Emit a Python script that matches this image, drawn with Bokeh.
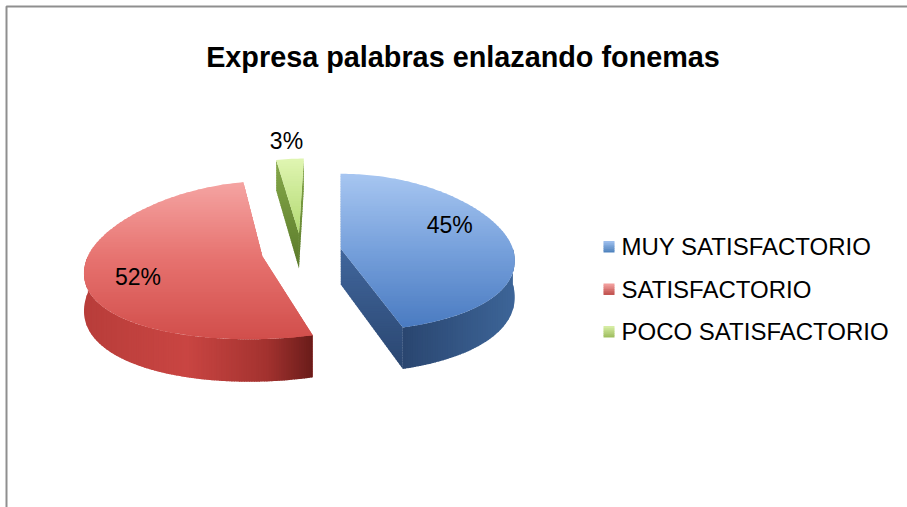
import numpy as np
from bokeh.plotting import figure
from bokeh.models import Range1d
from bokeh.embed import file_html
from bokeh.resources import INLINE
from bokeh.core.properties import value

# ---------------- data ----------------
chart_title = "Expresa palabras enlazando fonemas"
categories = ["MUY SATISFACTORIO", "SATISFACTORIO", "POCO SATISFACTORIO"]
percentages = [45, 52, 3]

# ---------------- styles / layout ----------------
FONT = "Liberation Sans"
W, H = 907, 507
CX, CY = 301.0, 251.0        # pie centre (page pixels)
RX = 173.0                   # horizontal radius
RY_BACK, RY_FRONT = 75.0, 83.0
VX = 338.0                   # perspective centre (x)
PERSP = 0.145                # perspective strength
DEPTH = 36.0                 # pie thickness
explode = [0.23, 0.23, 0.24]
label_k = [0.65, 0.65, 1.2]
label_nudge = [(0, -16), (-10, 7), (-2, -3)]

top_grad = [
    [(0, "#a7c6f1"), (0.5, "#76a0db"), (1, "#4a7bc1")],
    [(0, "#f5a4a2"), (0.5, "#e6716e"), (1, "#d14e4b")],
    [(0, "#e0f5b2"), (1, "#b2da72")],
]
side_grad = [  # horizontal, left -> right
    [(0, "#2a4670"), (1, "#3d6598")],
    [(0, "#b83d3a"), (0.45, "#c94542"), (0.8, "#a3322f"), (1, "#6a1c1a")],
    [(0, "#6f8f35"), (1, "#6f8f35")],
]
cut_grad = [  # vertical, top -> bottom
    [(0, "#41669c"), (1, "#2a4670")],
    [(0, "#e98280"), (1, "#c44a47")],
    [(0, "#86a84a"), (1, "#5a7a2a")],
]
legend_grad = [
    [(0, "#a3c3f0"), (1, "#4a7ebb")],
    [(0, "#f5a3a1"), (1, "#c0504d")],
    [(0, "#dbf1ab"), (1, "#9bbb59")],
]


def hex2rgb(h):
    h = h.lstrip("#")
    return np.array([int(h[i:i + 2], 16) for i in (0, 2, 4)], dtype=float)


def grad_color(stops, t):
    t = min(max(t, 0.0), 1.0)
    for (t0, c0), (t1, c1) in zip(stops[:-1], stops[1:]):
        if t <= t1:
            f = 0 if t1 == t0 else (t - t0) / (t1 - t0)
            c = hex2rgb(c0) * (1 - f) + hex2rgb(c1) * f
            return "#%02x%02x%02x" % tuple(int(round(v)) for v in c)
    return stops[-1][1]


def clip_half(poly, axis, val, keep_greater):
    out = []
    n = len(poly)
    for i in range(n):
        cur, prev = poly[i], poly[i - 1]
        cin = cur[axis] >= val if keep_greater else cur[axis] <= val
        pin = prev[axis] >= val if keep_greater else prev[axis] <= val
        if cin != pin:
            d = cur[axis] - prev[axis]
            f = (val - prev[axis]) / d if d != 0 else 0
            out.append((prev[0] + f * (cur[0] - prev[0]), prev[1] + f * (cur[1] - prev[1])))
        if cin:
            out.append(cur)
    return out


XS, YS, COLS = [], [], []


def add_gradient_poly(poly, stops, axis, step=2.5):
    vals = [pt[axis] for pt in poly]
    lo, hi = min(vals), max(vals)
    span = max(hi - lo, 1e-6)
    v = lo
    while v < hi:
        piece = clip_half(poly, axis, v, True)
        piece = clip_half(piece, axis, v + step + 0.8, False)
        if len(piece) >= 3:
            XS.append([q[0] for q in piece])
            YS.append([q[1] for q in piece])
            COLS.append(grad_color(stops, (v + step / 2 - lo) / span))
        v += step


def project(xw, zw, drop=0.0):
    """xw, zw in pie-radius units (zw > 0 = far side); drop = height below top face."""
    s = 1.0 / (1.0 + PERSP * zw)
    x = VX + (CX + RX * xw - VX) * s
    ry = RY_BACK if zw > 0 else RY_FRONT
    y = CY - ry * zw + drop * s
    return (x, y)


p = figure(width=W, height=H, x_range=Range1d(0, W), y_range=Range1d(H, 0),
           output_backend="svg", toolbar_location=None, min_border=0,
           x_axis_location=None, y_axis_location=None)
p.grid.visible = False
p.outline_line_color = None
p.background_fill_color = "white"
p.border_fill_color = "white"

# chart-area border (left and top edges visible)
p.line(x=[6, 6, W], y=[H, 6, 6], line_color="#8f8f8f", line_width=2)

# ---------------- pie geometry from the data ----------------
total = float(sum(percentages))
bounds = np.concatenate([[0], np.cumsum(percentages)]) / total * 2 * np.pi
slices = []
for i, pct in enumerate(percentages):
    a0, a1 = bounds[i], bounds[i + 1]
    mid = 0.5 * (a0 + a1)
    ex, ez = explode[i] * np.sin(mid), explode[i] * np.cos(mid)
    slices.append((i, a0, a1, mid, ex, ez))


def rim_w(ex, ez, th):
    return ex + np.sin(th), ez + np.cos(th)


# draw from back to front
order = sorted(slices, key=lambda s: -s[5])
for (i, a0, a1, mid, ex, ez) in order:
    apex_t = project(ex, ez)
    apex_b = project(ex, ez, DEPTH)
    # cut faces (hidden ones end up covered by the top face)
    for th in (a0, a1):
        xw, zw = rim_w(ex, ez, th)
        poly = [apex_t, project(xw, zw), project(xw, zw, DEPTH), apex_b]
        add_gradient_poly(poly, cut_grad[i], 1)
    # outer side (front half only)
    s0, s1 = max(a0, np.pi / 2), min(a1, 1.5 * np.pi)
    if s1 > s0:
        ths = np.linspace(s0, s1, 60)
        upper = [project(*rim_w(ex, ez, t)) for t in ths]
        lower = [project(*rim_w(ex, ez, t), DEPTH) for t in ths[::-1]]
        add_gradient_poly(upper + lower, side_grad[i], 0)
    # top face
    ths = np.linspace(a0, a1, max(int(np.degrees(a1 - a0)), 4))
    poly = [apex_t] + [project(*rim_w(ex, ez, t)) for t in ths]
    add_gradient_poly(poly, top_grad[i], 1)

p.patches(xs=XS, ys=YS, fill_color=COLS, line_color=None)

# percentage labels
lx, ly, lt = [], [], []
for (i, a0, a1, mid, ex, ez) in slices:
    x, y = project(ex + label_k[i] * np.sin(mid), ez + label_k[i] * np.cos(mid))
    lx.append(x + label_nudge[i][0])
    ly.append(y + label_nudge[i][1])
    lt.append("%d%%" % round(percentages[i] / total * 100))
p.text(x=lx, y=ly, text=lt, text_font=value(FONT), text_font_size="23px",
       text_align="center", text_baseline="middle", text_color="#000000")

# title
p.text(x=[462.5], y=[56], text=[chart_title], text_font=value(FONT), text_font_size="28.8px",
       text_font_style="bold", text_align="center", text_baseline="alphabetic", text_color="#000000")

# legend
LEG_X, LEG_Y0, LEG_DY, SQ = 603.0, 246.0, 42.5, 11.0
LXS, LYS, LCOLS = [], [], []
for k, cat in enumerate(categories):
    yc = LEG_Y0 + k * LEG_DY
    n = 6
    for j in range(n):
        y0 = yc - SQ / 2 + j * SQ / n
        LXS.append([LEG_X, LEG_X + SQ, LEG_X + SQ, LEG_X])
        LYS.append([y0, y0, y0 + SQ / n + 0.5, y0 + SQ / n + 0.5])
        LCOLS.append(grad_color(legend_grad[k], (j + 0.5) / n))
p.patches(xs=LXS, ys=LYS, fill_color=LCOLS, line_color=None)
p.text(x=[LEG_X + 18] * len(categories), y=[LEG_Y0 + k * LEG_DY for k in range(len(categories))],
       text=categories, text_font=value(FONT), text_font_size="24px",
       text_align="left", text_baseline="middle", text_color="#000000")

open("out.html", "w").write(file_html(p, INLINE))
